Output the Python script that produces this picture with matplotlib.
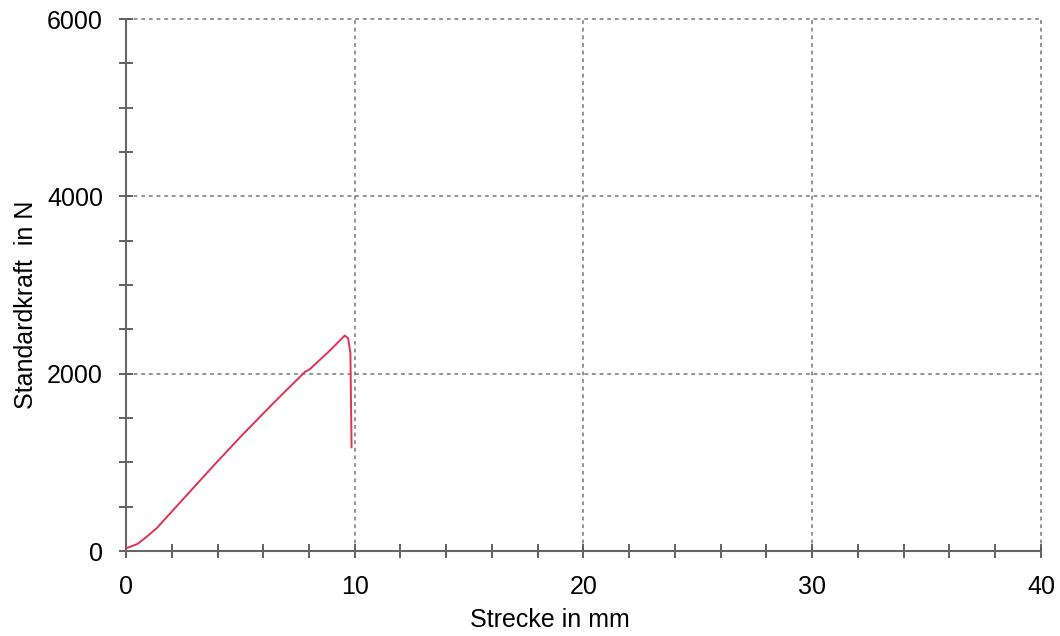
import matplotlib
matplotlib.use("Agg")
import matplotlib.pyplot as plt
from matplotlib.ticker import MultipleLocator

plt.rcParams['font.family'] = ['Liberation Sans', 'DejaVu Sans']

# Data (Strecke in mm, Standardkraft in N)
strecke = [0.0, 0.5, 0.9, 1.35, 2.0, 2.9, 3.96, 5.05, 6.43, 7.82, 8.03, 8.91, 9.56, 9.71, 9.81, 9.86]
kraft = [30, 80, 160, 260, 445, 700, 1000, 1300, 1665, 2020, 2050, 2260, 2430, 2400, 2230, 1170]

x_major = [0, 10, 20, 30, 40]
y_major = [0, 2000, 4000, 6000]
x_label = "Strecke in mm"
y_label = "Standardkraft  in N"

fig = plt.figure(figsize=(10.6, 6.36), dpi=100)
ax = fig.add_axes([0.1189, 0.1336, 0.8631, 0.8365])

ax.plot(strecke, kraft, color='#e2334f', lw=1.4, zorder=3)

ax.set_xlim(0, 40)
ax.set_ylim(0, 6000)
ax.set_xticks(x_major)
ax.set_yticks(y_major)
ax.xaxis.set_minor_locator(MultipleLocator(2))
ax.yaxis.set_minor_locator(MultipleLocator(500))

for s in ['top', 'right']:
    ax.spines[s].set_visible(False)
for s in ['left', 'bottom']:
    ax.spines[s].set_color('#666666')
    ax.spines[s].set_linewidth(1.5)

ax.tick_params(which='both', direction='inout', length=10, width=1.3, color='#555555')
ax.tick_params(axis='x', which='major', labelsize=18, pad=12)
ax.tick_params(axis='y', which='major', labelsize=18, pad=11.5)
ax.grid(True, which='major', color='#777777', linestyle=(0, (2.5, 2.5)), lw=1.1)
for gl in ax.get_xgridlines() + ax.get_ygridlines():
    gl.set_clip_on(False)

ax.set_xlabel(x_label, fontsize=18)
ax.set_ylabel(y_label, fontsize=18)
ax.xaxis.set_label_coords(0.463, -0.107)
ax.yaxis.set_label_coords(-0.096, 0.462)

fig.savefig('out.png', dpi=100, facecolor='white')
